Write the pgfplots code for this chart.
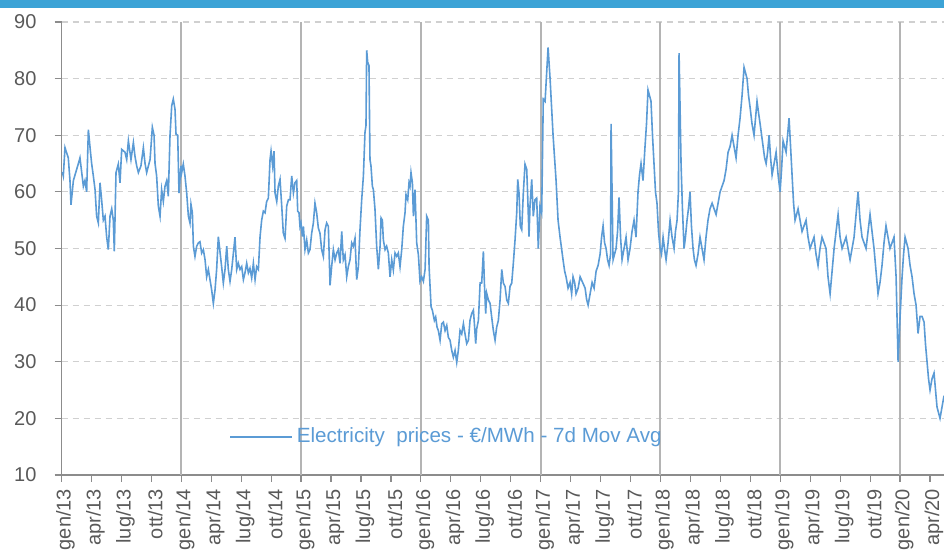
\documentclass[border=0pt]{standalone}
\usepackage{pgfplots}
\pgfplotsset{compat=1.18}
\usepackage{fontspec}
\setmainfont{Liberation Sans}
\usetikzlibrary{calc}
\definecolor{lineblue}{HTML}{5B9BD5}
\definecolor{topblue}{HTML}{3CA3D6}
\definecolor{tickgray}{HTML}{595959}
\definecolor{axisgray}{HTML}{8C8C8C}
\definecolor{yeargray}{HTML}{B4B4B4}
\definecolor{gridgray}{HTML}{D0D0D0}
\begin{document}
\begin{tikzpicture}
\begin{axis}[
  scale only axis,
  width=441.25pt, height=226.5pt,
  xmin=0, xmax=88.4, ymin=10, ymax=90,
  axis x line*=bottom, axis y line*=left,
  axis line style={axisgray, line width=0.7pt, -},
  tick align=outside,
  major tick length=3.5pt,
  tick style={axisgray, line width=0.6pt},
  xtick={0,3,...,87},
  xticklabels={gen/13,apr/13,lug/13,ott/13,gen/14,apr/14,lug/14,ott/14,gen/15,apr/15,lug/15,ott/15,gen/16,apr/16,lug/16,ott/16,gen/17,apr/17,lug/17,ott/17,gen/18,apr/18,lug/18,ott/18,gen/19,apr/19,lug/19,ott/19,gen/20,apr/20},
  xticklabel style={rotate=90, anchor=east, yshift=-2pt},
  ytick={10,20,...,90},
  yticklabel style={xshift=-5.5pt},
  tick label style={font=\fontsize{10}{12}\selectfont, text=tickgray},
  /pgf/number format/assume math mode=true,
  ymajorgrids,
  major grid style={gridgray, dash pattern=on 3pt off 2.5pt, line width=0.6pt},
  extra x ticks={12,24,36,48,60,72,84},
  extra x tick labels={},
  extra x tick style={grid=major, major grid style={yeargray, solid, line width=1pt}},
  legend style={at={(rel axis cs:0.19,0.084)}, anchor=west, draw=none, fill=none,
    font=\fontsize{10.3}{12}\selectfont, text=lineblue, inner sep=0pt},
  legend image code/.code={\draw[#1, line width=0.6pt] (0pt,0pt) -- (31pt,0pt);},
  clip=true,
]
\coordinate (ll) at (rel axis cs:0,0);
\coordinate (ur) at (rel axis cs:1,1);
\addplot[lineblue, line width=0.8pt] coordinates {
(0.08,63.5)(0.18,62.8)(0.35,67.8)(0.68,66)(0.85,62)(0.95,57.7)(1.19,62)(1.69,65)(1.85,66)(2.19,61)(2.35,62)(2.52,60)(2.69,71)(2.85,68)(3.02,65)(3.19,62.8)(3.36,60.4)(3.52,55.7)(3.69,54.5)(3.86,61.6)(4.02,58.6)(4.19,55)(4.36,55.7)(4.52,52.1)(4.69,49.8)(4.86,55.7)(5.03,57)(5.19,55)(5.29,49.5)(5.46,63.4)(5.69,64.9)(5.86,61.6)(6.03,67.5)(6.36,67)(6.53,65.7)(6.70,69)(6.96,65.7)(7.20,68.7)(7.36,66.3)(7.53,64.6)(7.70,63.4)(7.96,64.6)(8.20,67.8)(8.37,65)(8.53,63.4)(8.87,65.7)(9.10,71.4)(9.27,70)(9.37,65)(9.53,62.8)(9.70,57.5)(9.87,55.7)(10.03,60.4)(10.20,58.3)(10.37,61)(10.54,62)(10.70,59.2)(10.87,70)(11.04,75.2)(11.20,76.4)(11.37,74.6)(11.47,70.2)(11.64,70)(11.77,59.8)(11.97,64.6)
(12.04,63.4)(12.20,64.9)(12.37,62.8)(12.54,59.8)(12.71,55.7)(12.87,54.5)(12.97,57.8)(13.11,56.3)(13.21,50.4)(13.37,48.6)(13.54,50.4)(13.71,51)(13.87,51.2)(14.04,49.2)(14.21,49.8)(14.38,48)(14.54,45)(14.71,46.3)(15.04,42.7)(15.21,40.3)(15.38,42.7)(15.54,46.3)(15.71,52.1)(16.04,46.8)(16.21,43.9)(16.38,46.3)(16.55,50.4)(16.71,46.3)(16.88,44.2)(17.05,46.3)(17.38,52)(17.55,46.3)(17.71,47.4)(17.88,46.3)(18.05,46.8)(18.22,44.5)(18.38,45.7)(18.55,47.4)(18.72,45.7)(18.88,46.5)(19.05,44.8)(19.22,47.4)(19.39,44.5)(19.55,46.8)(19.72,46.3)(19.89,52.1)(20.05,55)(20.22,56.6)(20.39,56.3)(20.55,58.3)(20.72,58.9)(20.89,65.7)(20.99,67.2)(21.15,64.6)(21.29,67.2)(21.39,59.8)(21.56,58.3)(21.72,61)(21.89,62.2)(22.06,57.5)(22.22,52.7)(22.39,51.8)(22.56,57.5)(22.73,58.6)(22.89,58.6)(23.06,62.8)(23.23,59.8)(23.39,61.6)(23.56,62)(23.66,56.6)(23.79,56.3)(23.89,53.9)(23.99,54.5)
(24.13,52.1)(24.23,53.9)(24.39,49.8)(24.56,51.5)(24.73,49.2)(24.89,49.8)(25.06,52.7)(25.23,54.5)(25.39,58)(25.56,56.3)(25.73,53.6)(25.89,52.7)(26.06,49.8)(26.23,48.6)(26.40,53.3)(26.56,54.5)(26.73,53.9)(26.90,43.5)(27.06,46.8)(27.23,49.8)(27.40,48)(27.57,49.2)(27.73,49.8)(27.90,47.4)(28.07,53)(28.23,48)(28.40,48.9)(28.57,45)(28.73,46.8)(28.90,48)(29.07,51)(29.23,50.4)(29.40,51.8)(29.57,44.5)(29.74,46.8)(29.90,53.3)(30.07,58.6)(30.24,62.8)(30.40,70.5)(30.50,71.7)(30.57,85)(30.67,82.9)(30.80,82.3)(30.90,65.7)(31.00,64.6)(31.14,61)(31.24,60.4)(31.40,57)(31.57,50.4)(31.74,46.3)(31.91,50.4)(32.01,55.4)(32.14,55)(32.24,51.5)(32.41,49.8)(32.57,50.4)(32.74,49.2)(32.91,45)(33.08,48)(33.24,46.2)(33.41,49.2)(33.58,48.6)(33.74,49.2)(33.91,46.8)(34.08,49.8)(34.24,53.9)(34.41,56.3)(34.51,59.5)(34.68,58.6)(34.81,61.6)(34.91,61)(35.01,63.4)(35.15,61.6)(35.25,55.7)(35.41,60.4)(35.58,51)(35.75,48.9)(35.91,44.2)
(36.08,45)(36.25,44.2)(36.42,46.3)(36.58,55.7)(36.75,55)(36.82,46.8)(37.02,39.7)(37.15,39.1)(37.35,37.3)(37.48,37.9)(37.62,36.1)(37.75,35.5)(37.92,33.8)(38.09,36.7)(38.25,37)(38.42,35.5)(38.59,36.4)(38.75,34.3)(38.92,33.8)(39.09,32)(39.25,30.8)(39.42,32)(39.59,29.9)(39.75,32)(39.92,35.5)(40.09,34.9)(40.26,36.7)(40.42,34.9)(40.59,33.2)(40.76,33.8)(40.92,37.3)(41.09,38.5)(41.26,39.1)(41.36,36.7)(41.49,33.2)(41.59,35.8)(41.76,37.3)(41.93,43.9)(42.09,43.9)(42.26,49.5)(42.36,43.9)(42.49,38.5)(42.59,42.1)(42.76,40.9)(42.93,40.3)(43.09,37.9)(43.26,35.5)(43.43,33.8)(43.59,36.1)(43.76,37.3)(43.93,40.9)(44.10,46.3)(44.26,43.9)(44.43,43.3)(44.60,40.9)(44.76,40.3)(44.93,43.3)(45.10,43.9)(45.26,47.4)(45.43,51.5)(45.60,56.3)(45.70,62.2)(45.83,59.8)(45.96,53.9)(46.10,53.3)(46.26,59.8)(46.43,64.9)(46.60,64)(46.70,59.2)(46.83,52.1)(46.93,57.5)(47.10,62.2)(47.26,55.7)(47.43,58.6)(47.60,58.9)(47.76,50)(47.93,57.5)(48.10,56.3)
(48.26,76.4)(48.44,76)(48.74,85.5)(48.94,80)(49.24,70)(49.54,62)(49.74,55)(49.94,52)(50.24,48)(50.40,46)(50.54,45)(50.74,43)(50.94,44)(51.10,42)(51.24,45)(51.40,44)(51.54,42)(51.75,43)(51.95,45)(52.20,44)(52.45,43)(52.60,41)(52.75,40)(52.95,42)(53.15,44)(53.35,43)(53.55,46)(53.75,47)(53.95,49)(54.10,52)(54.25,54)(54.40,51)(54.55,50)(54.70,48)(54.85,47)(55.00,49)(55.05,72)(55.15,60)(55.25,48)(55.40,49)(55.55,50)(55.70,53)(55.85,59)(56.00,52)(56.15,48)(56.35,50)(56.55,52)(56.75,48)(56.95,50)(57.15,53)(57.35,55)(57.55,52)(57.75,60)(57.90,63)(58.05,65)(58.25,62)(58.45,68)(58.60,72)(58.75,78)(58.90,77)(59.05,76)(59.20,70)(59.35,65)(59.50,60)(59.65,58)(59.80,53)(59.96,50)
(60.10,49)(60.26,52)(60.40,50)(60.56,48)(60.76,51)(60.96,55)(61.16,52)(61.36,50)(61.50,53)(61.66,55)(61.80,60)(61.86,84.5)(61.96,75)(62.06,65)(62.20,57)(62.36,50)(62.50,52)(62.66,55)(62.80,57)(62.96,60)(63.10,54)(63.26,50)(63.40,48)(63.56,47)(63.76,49)(63.96,52)(64.16,50)(64.36,48)(64.56,52)(64.76,55)(64.96,57)(65.17,58)(65.37,57)(65.57,56)(65.77,58)(65.97,60)(66.17,61)(66.37,62)(66.57,64)(66.77,67)(66.97,68)(67.17,70)(67.37,68)(67.57,66)(67.77,70)(67.97,73)(68.17,77)(68.37,82)(68.52,81)(68.67,80)(68.82,77)(68.97,75)(69.17,72)(69.37,70)(69.52,73)(69.67,76)(69.82,74)(69.98,72)(70.13,70)(70.28,68)(70.43,66)(70.58,65)(70.73,67)(70.88,70)(71.03,66)(71.18,63)(71.38,65)(71.58,67)(71.78,63)(71.98,60)
(72.13,64)(72.28,69)(72.43,68)(72.58,67)(72.73,70)(72.88,73)(73.03,68)(73.18,63)(73.33,58)(73.48,55)(73.63,56)(73.78,57)(73.98,55)(74.18,53)(74.38,54)(74.58,55)(74.78,52)(74.98,50)(75.18,51)(75.38,52)(75.58,49)(75.78,47)(75.98,50)(76.18,52)(76.38,51)(76.58,50)(76.78,45)(76.99,42)(77.19,46)(77.39,50)(77.59,53)(77.79,56)(77.99,52)(78.19,50)(78.39,51)(78.59,52)(78.79,50)(78.99,48)(79.19,50)(79.39,52)(79.59,56)(79.79,60)(79.99,55)(80.19,52)(80.39,51)(80.59,50)(80.79,53)(80.99,56)(81.19,53)(81.39,50)(81.59,46)(81.79,42)(81.99,44)(82.19,47)(82.39,51)(82.59,54)(82.79,52)(82.99,50)(83.19,51)(83.39,52)(83.60,45)(83.80,30)(84.00,38)(84.20,45)(84.35,49)(84.50,52)(84.65,51)(84.80,50)(85.00,47)(85.20,45)(85.40,42)(85.60,40)(85.80,35)(86.00,38)(86.20,38)(86.40,37)(86.55,33)(86.70,30)(86.85,27)(87.00,25)(87.20,27)(87.40,28)(87.55,25)(87.70,22)(87.85,21)(88.00,20)(88.20,22)(88.40,24)
};
\addlegendentry{Electricity\ \ prices - €/MWh - 7d Mov Avg}
\end{axis}
\fill[topblue] ($(ll|-ur)+(-30.75pt,7pt)$) rectangle ($(ur)+(0pt,11pt)$);
\pgfresetboundingbox
\path ($(ll)+(-30.75pt,-40.5pt)$) rectangle ($(ur)+(0pt,11pt)$);
\end{tikzpicture}
\end{document}
